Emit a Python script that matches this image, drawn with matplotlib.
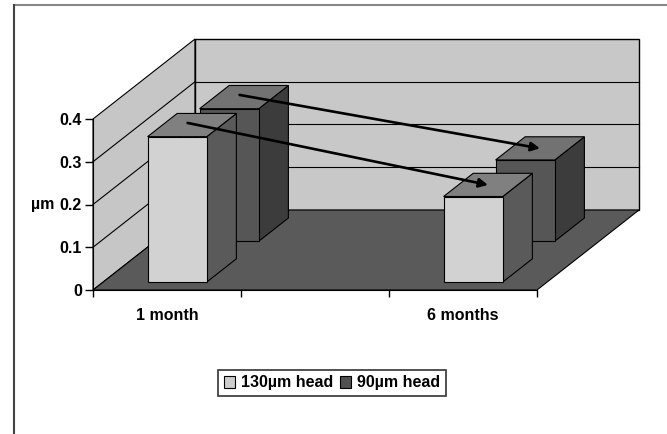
import numpy as np
import matplotlib
matplotlib.use("Agg")
import matplotlib.pyplot as plt
from matplotlib.patches import Polygon, Patch
from matplotlib.lines import Line2D

plt.rcParams['font.family'] = ['Liberation Sans', 'DejaVu Sans']

# ---- data ----
categories = ["1 month", "", "6 months"]
series_names = ["130\u00b5m head", "90\u00b5m head"]
head130 = [0.34, np.nan, 0.20]
head90 = [0.31, np.nan, 0.19]
yticks = [0, 0.1, 0.2, 0.3, 0.4]
ytick_labels = ["0", "0.1", "0.2", "0.3", "0.4"]
y_unit = "\u00b5m"

# ---- layout / styles ----
W, H = 667, 434
PX_X = 148.0      # pixels per category slot
PX_Y = 427.5      # pixels per 1.0 value
X0, Y0 = 93, 290  # pixel of origin
DX = 102 / PX_X   # depth offset in data units
DY = 80 / PX_Y
YMAX = 0.4
NCAT = len(categories)
BAR_W = 0.4
FS = 11.5
depths = [(0.10, 0.39), (0.61, 0.90)]  # front series, back series
face_cols = [("#d2d2d2", "#5a5a5a", "#808080"), ("#565656", "#3c3c3c", "#727272")]
legend_cols = ["#cdcdcd", "#505050"]

fig = plt.figure(figsize=(W / 100, H / 100), dpi=100)
ax = fig.add_axes([0, 0, 1, 1])
ax.set_xlim(-X0 / PX_X, (W - X0) / PX_X)
ax.set_ylim(-(H - Y0) / PX_Y, Y0 / PX_Y)
ax.patch.set_alpha(0)

def P(x, y, d):
    return (x + d * DX, y + d * DY)

# walls and floor
floor = Polygon([P(0, 0, 0), P(NCAT, 0, 0), P(NCAT, 0, 1), P(0, 0, 1)],
                closed=True, fc="#5a5a5a", ec="black", lw=0.8, zorder=1)
left_wall = Polygon([P(0, 0, 0), P(0, YMAX, 0), P(0, YMAX, 1), P(0, 0, 1)],
                    closed=True, fc="#c6c6c6", ec="black", lw=0.8, zorder=1)
back_wall = Polygon([P(0, 0, 1), P(NCAT, 0, 1), P(NCAT, YMAX, 1), P(0, YMAX, 1)],
                    closed=True, fc="#c8c8c8", ec="black", lw=1.0, zorder=1)
for p in (left_wall, back_wall, floor):
    ax.add_patch(p)
for yv in yticks[1:-1]:
    a, b = P(0, yv, 0), P(0, yv, 1)
    ax.plot([a[0], b[0]], [a[1], b[1]], color="black", lw=0.8, zorder=2)
    c = P(NCAT, yv, 1)
    ax.plot([b[0], c[0]], [b[1], c[1]], color="black", lw=0.8, zorder=2)

# bars: back series first
all_series = [head130, head90]
tops = {}
for s in [1, 0]:
    vals = all_series[s]
    d0, d1 = depths[s]
    fc, sc, tc = face_cols[s]
    for i, v in enumerate(vals):
        if np.isnan(v):
            continue
        x0 = i + (1 - BAR_W) / 2
        x1 = x0 + BAR_W
        front = Polygon([P(x0, 0, d0), P(x1, 0, d0), P(x1, v, d0), P(x0, v, d0)],
                        closed=True, fc=fc, ec="black", lw=0.8, zorder=3)
        side = Polygon([P(x1, 0, d0), P(x1, 0, d1), P(x1, v, d1), P(x1, v, d0)],
                       closed=True, fc=sc, ec="black", lw=0.8, zorder=3)
        top = Polygon([P(x0, v, d0), P(x1, v, d0), P(x1, v, d1), P(x0, v, d1)],
                      closed=True, fc=tc, ec="black", lw=0.8, zorder=3)
        for p in (side, top, front):
            ax.add_patch(p)
        tops.setdefault(s, []).append(P((x0 + x1) / 2, v, (d0 + d1) / 2))

# arrows between months
for s in [1, 0]:
    (xa, ya), (xb, yb) = tops[s][0], tops[s][-1]
    ax.annotate("", xy=(xb, yb), xytext=(xa - 0.03, ya + 0.005),
                arrowprops=dict(arrowstyle="-|>", color="black", lw=1.9,
                                mutation_scale=13, shrinkA=0, shrinkB=0),
                zorder=5)

# axes spines / ticks
for sp in ("top", "right"):
    ax.spines[sp].set_visible(False)
ax.spines["left"].set_position(("data", 0))
ax.spines["left"].set_bounds(0, YMAX)
ax.spines["bottom"].set_position(("data", 0))
ax.spines["bottom"].set_bounds(0, NCAT)
ax.spines["left"].set_zorder(4)
ax.spines["bottom"].set_zorder(4)
ax.set_yticks(yticks)
ax.set_yticklabels(ytick_labels, fontsize=FS, fontweight="bold")
ax.tick_params(axis="y", direction="out", length=6, width=1, pad=2)
ax.set_xticks(range(NCAT + 1))
ax.set_xticklabels([])
ax.tick_params(axis="x", which="major", direction="out", length=5, width=1)
ax.set_xticks([i + 0.5 for i in range(NCAT)], minor=True)
ax.set_xticklabels(categories, minor=True, fontsize=FS, fontweight="bold")
ax.tick_params(axis="x", which="minor", length=0, pad=13)
ax.text(-39 / PX_X, 0.2, y_unit, ha="right", va="center", fontsize=FS,
        fontweight="bold")

# legend
handles = [Patch(fc=legend_cols[k], ec="black", lw=0.8) for k in range(2)]
leg = fig.legend(handles, series_names, loc="center", bbox_to_anchor=(332 / W, 1 - 383 / H),
                 ncol=2, frameon=True, fancybox=False, edgecolor="black",
                 prop=dict(size=FS, weight="bold"), handlelength=0.7,
                 handleheight=0.7, handletextpad=0.4, columnspacing=0.4,
                 borderpad=0.35, borderaxespad=0)
leg.get_frame().set_linewidth(1.2)

# chart-area border
fig.add_artist(Line2D([14 / W, 1], [1 - 5 / H, 1 - 5 / H], color="#888888", lw=1.5))
fig.add_artist(Line2D([14 / W, 14 / W], [0, 1 - 5 / H], color="#444444", lw=1.5))

fig.savefig("out.png", dpi=100)
